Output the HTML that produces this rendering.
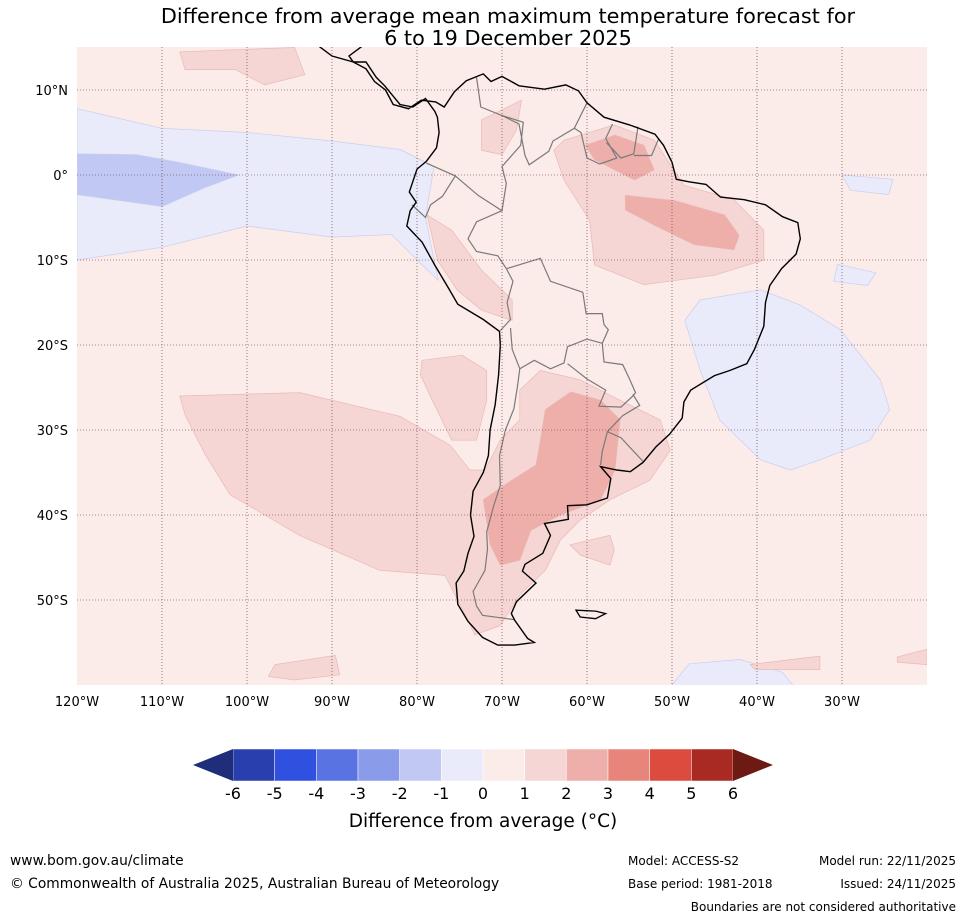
<!DOCTYPE html>
<html><head><meta charset="utf-8"><style>
body{margin:0;background:#fff;width:965px;height:919px;overflow:hidden;font-family:"Liberation Sans","DejaVu Sans",sans-serif;}
svg{display:block}
</style></head><body>
<svg id="chart" width="965" height="919" xmlns="http://www.w3.org/2000/svg">
<text x="508" y="23" font-size="20.8" text-anchor="middle" font-family="DejaVu Sans, sans-serif">Difference from average mean maximum temperature forecast for</text>
<text x="508" y="45" font-size="20.8" text-anchor="middle" font-family="DejaVu Sans, sans-serif">6 to 19 December 2025</text>
<defs><clipPath id="mc"><rect x="77" y="47" width="850" height="638"/></clipPath></defs>
<g id="map" clip-path="url(#mc)"></g>
<g id="axes"></g>
<g id="cbar"></g>
<text x="483" y="827" font-size="18.5" text-anchor="middle" font-family="DejaVu Sans, sans-serif">Difference from average (°C)</text>
<text x="10" y="865" font-size="13.8" font-family="DejaVu Sans, sans-serif">www.bom.gov.au/climate</text>
<text x="10" y="888" font-size="13.8" font-family="DejaVu Sans, sans-serif">© Commonwealth of Australia 2025, Australian Bureau of Meteorology</text>
<text x="628" y="865" font-size="12" font-family="DejaVu Sans, sans-serif">Model: ACCESS-S2</text>
<text x="628" y="888" font-size="12" font-family="DejaVu Sans, sans-serif">Base period: 1981-2018</text>
<text x="956" y="865" font-size="12" text-anchor="end" font-family="DejaVu Sans, sans-serif">Model run: 22/11/2025</text>
<text x="956" y="888" font-size="12" text-anchor="end" font-family="DejaVu Sans, sans-serif">Issued: 24/11/2025</text>
<text x="956" y="911" font-size="12" text-anchor="end" font-family="DejaVu Sans, sans-serif">Boundaries are not considered authoritative</text>
</svg>
<script>
const lonTicks=[-120,-110,-100,-90,-80,-70,-60,-50,-40,-30];
const latTicks=[10,0,-10,-20,-30,-40,-50];
const levels=[-6,-5,-4,-3,-2,-1,0,1,2,3,4,5,6];
const levelColors=["#2a3fae","#3050e0","#5a73e3","#8a9be9","#c1c8f3","#e9ebfa","#fbebe9","#f6d6d4","#eeaeaa","#e8857a","#dc4b3e","#a82a22"];
const underColor="#1f2d7a", overColor="#6d1a15";
const blue1Pacific=[[-120,7.8],[-110,5.5],[-100,5],[-90,4],[-82,3],[-78,1],[-79,-5],[-78,-10],[-77.5,-12.4],[-80,-10],[-83,-7],[-90,-7.3],[-100,-6],[-110,-8.5],[-120,-10]];
const blue2Pacific=[[-120,2.5],[-113,2.4],[-108,1.5],[-101,0],[-105,-1.5],[-110,-3.7],[-115,-3],[-120,-2.3]];
const blue1Atlantic=[[-46.7,-14.7],[-39.6,-13.5],[-34.9,-15.3],[-30.2,-18.2],[-25.5,-24.1],[-24.4,-27.6],[-26.7,-31.2],[-32.6,-33.5],[-36.1,-34.7],[-39.6,-33.5],[-44.4,-28.8],[-46.7,-22.9],[-48.5,-17.1]];
const blue1South=[[-50.8,-61],[-48,-57.5],[-42,-57],[-37,-58.5],[-35,-61]];
const blue1Small1=[[-30.5,-10.5],[-26,-11.5],[-27,-13],[-31,-12.5]];
const blue1Small2=[[-30,-0],[-24,-0.5],[-24.5,-2.3],[-29,-1.8]];
const pink2South=[[-107.9,-26],[-93.8,-25.6],[-82,-28.4],[-76.1,-31.8],[-73.8,-34.7],[-72,-34.7],[-70.2,-31.2],[-67.9,-28.8],[-67.9,-25.3],[-65.5,-23],[-60.8,-24.1],[-56.1,-26.5],[-51.4,-28.8],[-50.2,-32.4],[-52.6,-35.9],[-57.3,-38.2],[-60.8,-40.6],[-63.1,-42.9],[-64.9,-46.5],[-67.9,-49.4],[-70.2,-53],[-73.2,-54.1],[-74.9,-50.6],[-76.7,-47.1],[-84.4,-46.5],[-93.8,-42.4],[-102,-37.6],[-104.9,-32.9],[-107.3,-28.2]];
const pink2PeruOff=[[-79.4,-21.8],[-74.7,-21.2],[-71.8,-23],[-71.8,-26.5],[-73,-31.2],[-75.9,-31.2],[-78.2,-26.5],[-79.6,-23.5]];
const pink2PeruCoast=[[-78.8,-4.7],[-75.9,-6.5],[-72.4,-11.2],[-68.8,-14.7],[-68.8,-17.1],[-72.4,-15.9],[-75.3,-13.5],[-77.6,-10]];
const pink2Brazil=[[-62.7,4.1],[-56.8,5.9],[-52.1,4.1],[-48.6,-1.2],[-42.7,-2.9],[-39.2,-6.5],[-39.2,-10],[-45,-11.8],[-53.3,-12.9],[-59.1,-10.6],[-59.7,-5.3],[-62.7,-0.6],[-63.9,2.9]];
const pink2Ven=[[-72.4,6.5],[-67.7,8.8],[-68.3,5.3],[-70,2.4],[-72.4,2.9]];
const pink2Top1=[[-107.9,14.5],[-94.4,15],[-93.2,11.8],[-97.9,10.6],[-101.4,12.4],[-107.3,12.4]];
const pink2Atl=[[-57.3,-42.4],[-62,-43.5],[-60.8,-44.7],[-57.3,-45.9],[-56.8,-44.1]];
const pink2Bot1=[[-96.7,-57.6],[-89.6,-56.5],[-89.1,-58.8],[-94.4,-59.4],[-97.5,-59]];
const pink2Bot2=[[-40.8,-57.6],[-32.6,-56.6],[-32.6,-58.2],[-40.2,-58.2]];
const pink2Bot3=[[-23.5,-56.7],[-20,-55.8],[-20,-57.6],[-23.5,-57.3]];
const red3Arg=[[-64.9,-27.6],[-61.9,-25.5],[-58.4,-26.5],[-56.1,-28.8],[-56.7,-34.7],[-58.4,-38.2],[-63.1,-40],[-66.6,-41.8],[-67.9,-45.3],[-70.2,-45.9],[-71.4,-43.5],[-72.2,-38.2],[-69,-36],[-66,-34.1],[-65.5,-31.2]];
const red3Brazil=[[-55.5,-2.4],[-49.7,-3],[-43.8,-4.7],[-42.1,-7.1],[-42.7,-8.8],[-47.4,-8.2],[-52.1,-5.9],[-55.5,-4.1]];
const red3North=[[-60.2,3.5],[-56.7,4.7],[-53.3,3.5],[-52.1,0.6],[-54.4,-0.6],[-59.1,1.8]];
const regions=[[blue1Pacific,5],[blue2Pacific,4],[blue1Atlantic,5],[blue1South,5],[blue1Small1,5],[blue1Small2,5],
 [pink2South,7],[pink2PeruOff,7],[pink2PeruCoast,7],[pink2Brazil,7],[pink2Ven,7],[pink2Top1,7],[pink2Atl,7],[pink2Bot1,7],[pink2Bot2,7],[pink2Bot3,7],
 [red3Arg,8],[red3Brazil,8],[red3North,8]];
const coastSA=[[-92,15.5],[-90,14],[-87.5,13.3],[-86,12.5],[-85,11],[-83.7,10],[-82.8,8.3],[-81,7.8],[-79.5,8.8],[-77.8,8.6],[-76.8,8],[-75.6,9.8],[-74.2,11.1],[-72.2,11.9],[-71.3,11],[-70,11.6],[-68,10.5],[-65,10.1],[-62.5,10.6],[-61,9.9],[-60,8.5],[-58,6.8],[-55,5.9],[-52,4.8],[-51,3.5],[-50,1.5],[-49.5,-0.5],[-48,-0.8],[-46,-1.1],[-44.3,-2.6],[-41.5,-2.9],[-39,-3.5],[-37,-4.9],[-35.2,-5.6],[-34.9,-7.5],[-35.4,-9.3],[-37.1,-11],[-38.5,-13],[-39,-15],[-39.2,-17.8],[-40.3,-20.5],[-41.2,-22.2],[-43.2,-23],[-45,-23.6],[-47.8,-25.3],[-48.6,-26.7],[-48.8,-28.6],[-50.3,-30.5],[-51.9,-32],[-53.4,-33.8],[-54.9,-34.9],[-56.5,-34.7],[-58.4,-34.3],[-57.2,-35.7],[-57.6,-38],[-60,-38.8],[-62.3,-38.9],[-62.2,-40.5],[-65,-41],[-64.3,-42.4],[-65.2,-44.5],[-67.3,-45.8],[-67.6,-46.6],[-66,-48],[-68.3,-50.2],[-68.9,-51.6],[-68.5,-52.4],[-67,-54.5],[-66.2,-55],[-68.5,-55.3],[-70.5,-55.3],[-72.3,-54.4],[-74,-52.5],[-75.2,-50.5],[-75.4,-48],[-74.5,-46.6],[-74,-44.5],[-73.3,-42.5],[-73.7,-40],[-73.4,-37.2],[-72.2,-35],[-71.6,-33],[-71.4,-30],[-70.8,-27],[-70.4,-23.5],[-70.2,-20],[-70.3,-18.4],[-72.2,-17],[-75.2,-15.2],[-76.3,-13.3],[-77.9,-10.6],[-79.4,-7.9],[-81.2,-6],[-80.8,-4.2],[-80.1,-3.2],[-80.9,-2],[-80.4,-0.5],[-80,0.7],[-78.9,1.6],[-77.7,3.2],[-77.4,5],[-77.6,6.8],[-77.9,7.5],[-79,9],[-80.5,8],[-82,8.3],[-83.8,10.5],[-84.8,11.5],[-86,13.3],[-87.5,13.3],[-88,14],[-86,15.5]];
const falklands=[[-61.3,-51.2],[-59,-51.3],[-57.8,-51.6],[-59,-52.2],[-60.8,-52]];
const borders=[
 [[-73,11.5],[-72.5,8],[-70,7],[-67.5,6.2],[-67.8,3.5],[-70,1],[-69.5,-1],[-70,-4.2],[-72.8,-2.4],[-75.5,-0.1],[-78.9,1.4]],
 [[-60,8.5],[-61.5,5.5],[-64,4],[-64.5,2.8],[-66.8,1.2],[-67.3,2.3],[-68,6],[-70,7]],
 [[-57,6],[-57.8,4.3],[-56.5,2],[-58.5,1.3],[-60,2],[-60.7,5],[-61.5,5.5]],
 [[-54,5.7],[-54.5,2.5],[-56,2],[-57.7,3.8]],
 [[-51.6,4.2],[-52.4,2.3],[-54.5,2.3]],
 [[-75.5,-0.1],[-77,-2.5],[-78.4,-3.5],[-79,-5],[-80.6,-3.5]],
 [[-70,-4.2],[-73,-5.5],[-74,-7.5],[-73,-9],[-70.5,-9.5],[-69.5,-11],[-68.7,-12.5],[-69.4,-15],[-69,-17],[-70.2,-18.3]],
 [[-69.4,-11],[-65.5,-9.8],[-64.3,-12.5],[-60.5,-13.8],[-60.1,-16.3],[-58.2,-16.3],[-58,-17.6],[-57.5,-18.2],[-58.2,-19.8],[-60,-19.3],[-62.3,-20.2],[-62.7,-22.1],[-64.3,-22.8],[-66.2,-21.8],[-67.9,-22.8],[-68.8,-20.5],[-69,-18]],
 [[-67.9,-22.8],[-68.2,-25],[-68.6,-27.5],[-69.6,-30],[-70.3,-33],[-70.2,-36.5],[-71,-39],[-71.8,-42],[-71.7,-44],[-72,-46.5],[-73.4,-49],[-73,-50.7],[-72.3,-51.8],[-68.6,-52.3]],
 [[-58.2,-19.8],[-58,-22],[-55.8,-22.3],[-55,-24],[-54.3,-25.6],[-54.6,-26],[-56,-27.3],[-58.6,-27.2],[-57.8,-25.3],[-60,-24],[-62.3,-22.2]],
 [[-54.6,-25.8],[-53.8,-27.1],[-55.8,-28.3],[-57.6,-30.2],[-56,-30.9],[-53.4,-33.7]],
 [[-57.6,-30.2],[-58.2,-32.5],[-58.4,-34.1]]];
const W0=77,H0=47,PX=8.5,LON0=-120,LAT0=15.06;
function xS(lon){return W0+(lon-LON0)*PX;}
function yS(lat){return H0+(LAT0-lat)*PX;}
const NS="http://www.w3.org/2000/svg";
function mk(tag,attrs,parent){const e=document.createElementNS(NS,tag);for(const k in attrs)e.setAttribute(k,attrs[k]);parent.appendChild(e);return e;}
function pts(a){return a.map(p=>xS(p[0]).toFixed(1)+","+yS(p[1]).toFixed(1)).join(" ");}
const map=document.getElementById("map");
const bg=mk("rect",{x:77,y:47,width:850,height:638,fill:levelColors[6]},map);


regions.forEach((r,i)=>{
 const p=mk("polygon",{points:pts(r[0]),fill:levelColors[r[1]],stroke:r[1]>6?"#e9b9b5":"#c9cfee","stroke-width":0.7,"stroke-linejoin":"round"},map);
 
 
});
borders.forEach((b,i)=>{
 const l=mk("polyline",{points:pts(b),fill:"none",stroke:"#7a7a7a","stroke-width":1.2},map);
 
 
});
const cst=mk("polyline",{points:pts(coastSA),fill:"none",stroke:"#000","stroke-width":1.4},map);


const fk=mk("polygon",{points:pts(falklands),fill:"none",stroke:"#000","stroke-width":1.3},map);


const ax=document.getElementById("axes");
lonTicks.forEach(lon=>{
 if(lon>LON0){const g=mk("line",{x1:xS(lon),x2:xS(lon),y1:47,y2:685,stroke:"#5a2a2a","stroke-width":0.6,"stroke-dasharray":"1,2"},ax);
 
 }
 const t=mk("text",{x:xS(lon),y:706,"font-size":13,"text-anchor":"middle","font-family":"DejaVu Sans, sans-serif"},ax);
 t.textContent=Math.abs(lon)+"°W";
 
 
});
latTicks.forEach(lat=>{
 const g=mk("line",{x1:77,x2:927,y1:yS(lat),y2:yS(lat),stroke:"#5a2a2a","stroke-width":0.6,"stroke-dasharray":"1,2"},ax);
 
 
 const t=mk("text",{x:68,y:yS(lat)+5,"font-size":13,"text-anchor":"end","font-family":"DejaVu Sans, sans-serif"},ax);
 t.textContent=lat===0?"0°":Math.abs(lat)+"°"+(lat>0?"N":"S");
 
 
});
const cb=document.getElementById("cbar");
const CX0=233,CX1=733,CY=749,CH=32;
function cx(v){return CX0+(v-levels[0])/(levels[levels.length-1]-levels[0])*(CX1-CX0);}
for(let i=0;i<levelColors.length;i++){
 const r=mk("rect",{x:cx(levels[i]),y:CY,width:cx(levels[i+1])-cx(levels[i]),height:CH,fill:levelColors[i],stroke:"#fff","stroke-width":0.5},cb);
 
 
}
const tu=mk("polygon",{points:`${CX0},${CY} ${CX0-40},${CY+CH/2} ${CX0},${CY+CH}`,fill:underColor},cb);


const to=mk("polygon",{points:`${CX1},${CY} ${CX1+40},${CY+CH/2} ${CX1},${CY+CH}`,fill:overColor},cb);


levels.forEach(v=>{
 const t=mk("text",{x:cx(v),y:799,"font-size":16,"text-anchor":"middle","font-family":"DejaVu Sans, sans-serif"},cb);
 t.textContent=String(v);
 
 
});
</script>
</body></html>
